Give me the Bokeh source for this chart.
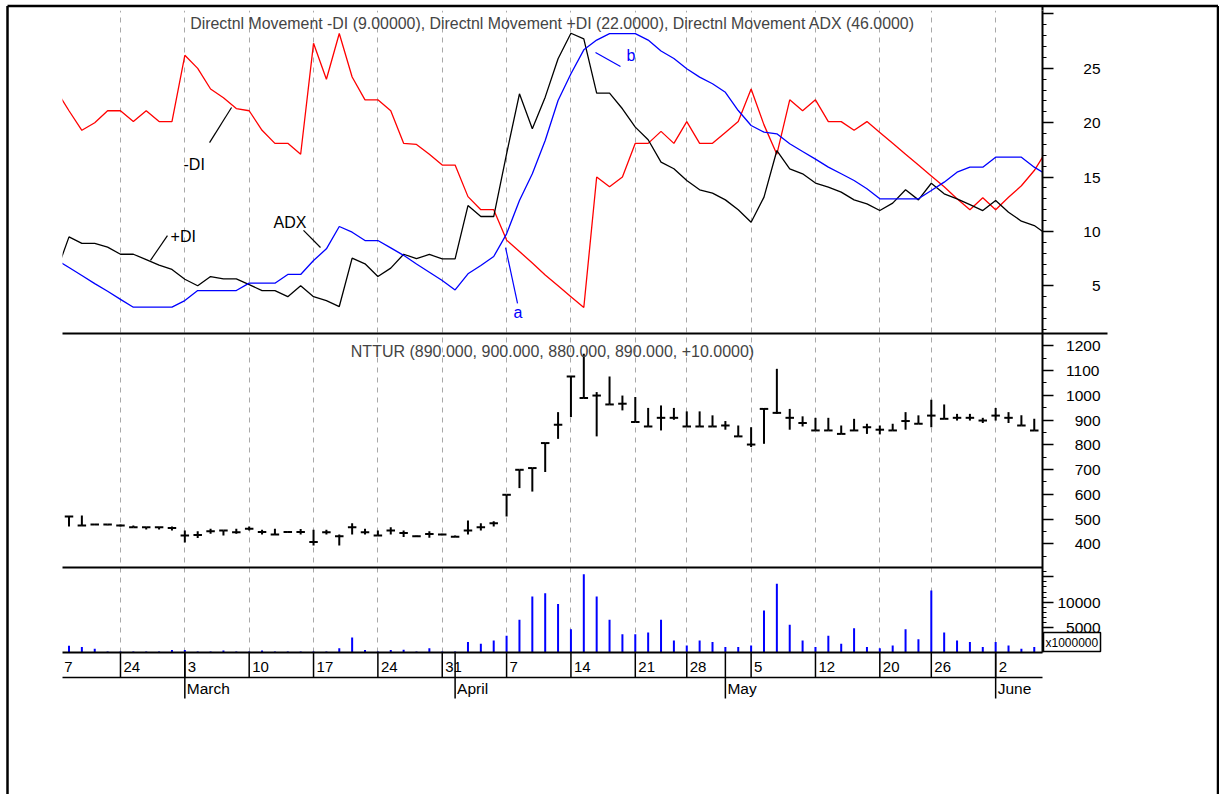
import datetime as dt
import numpy as np
from bokeh.plotting import figure
from bokeh.models import Range1d, LinearAxis, FixedTicker, Label
from bokeh.core.properties import value
from bokeh.embed import file_html
from bokeh.resources import INLINE

FONT = "Liberation Sans"

# ------------------------------------------------------------------ data
trading_days = {
    "1997-02": [18, 19, 20, 21, 24, 25, 26, 27, 28],
    "1997-03": [3, 4, 5, 6, 7, 10, 11, 12, 13, 14, 17, 18, 19, 20, 21, 24, 25, 26, 27, 28, 31],
    "1997-04": [1, 2, 3, 4, 7, 8, 9, 10, 11, 14, 15, 16, 17, 18, 21, 22, 24, 25, 28, 29, 30],
    "1997-05": [1, 2, 5, 6, 7, 8, 9, 12, 13, 14, 15, 16, 20, 21, 22, 23, 26, 27, 28, 29, 30],
    "1997-06": [2, 3, 4, 5],
}
dates = [dt.date.fromisoformat(f"{ym}-{d:02d}") for ym, days in trading_days.items() for d in days]

price_open = [510, 474, 478, 478, 474, 467, 467, 467, 464, 434, 436, 451, 454, 447, 461, 448, 438, 448, 448, 407,
              447, 430, 467, 447, 434, 454, 444, 430, 440, 438, 428, 454, 467, 483, 598, 699, 706, 807, 881, 1076,
              989, 999, 963, 966, 892, 874, 909, 909, 874, 874, 874, 878, 834, 801, 945, 929, 909, 888, 858, 858,
              844, 858, 871, 861, 858, 896, 885, 918, 905, 909, 909, 898, 918, 909, 878, 858]
price_high = [510, 514, 480, 478, 478, 474, 467, 467, 470, 454, 451, 461, 454, 461, 470, 457, 461, 450, 460, 457,
              457, 438, 483, 461, 454, 467, 454, 433, 451, 441, 434, 494, 483, 491, 598, 699, 706, 807, 932, 1076,
              1168, 1013, 1076, 999, 993, 949, 959, 949, 935, 935, 919, 896, 878, 871, 945, 1107, 945, 915, 909, 909,
              878, 905, 885, 878, 885, 932, 919, 982, 963, 925, 925, 909, 949, 932, 919, 905]
price_low = [470, 474, 477, 475, 470, 467, 458, 458, 454, 405, 423, 441, 434, 441, 454, 438, 438, 446, 438, 393,
             438, 393, 438, 438, 434, 438, 427, 427, 424, 435, 428, 438, 454, 470, 510, 625, 611, 690, 824, 912,
             989, 834, 963, 939, 892, 874, 858, 901, 874, 874, 874, 861, 834, 791, 804, 925, 861, 874, 858, 858,
             844, 858, 844, 842, 858, 861, 885, 871, 905, 898, 898, 888, 898, 888, 878, 858]
price_close = [510, 474, 478, 478, 474, 467, 467, 467, 464, 434, 436, 451, 454, 447, 461, 448, 438, 448, 448, 407,
               447, 430, 467, 447, 434, 454, 444, 430, 440, 438, 428, 454, 467, 483, 598, 699, 706, 807, 881, 1076,
               989, 999, 963, 966, 892, 874, 909, 909, 874, 874, 874, 878, 834, 801, 945, 929, 909, 888, 858, 858,
               844, 858, 871, 861, 858, 896, 885, 918, 905, 909, 909, 898, 918, 909, 878, 858]
volume = [1330, 1070, 730, 200, 200, 200, 200, 200, 500, 500, 200, 200, 400, 200, 200, 400, 200, 200, 200, 200,
          200, 860, 2980, 500, 200, 500, 530, 200, 860, 200, 200, 2060, 1730, 2390, 3310, 6490, 11110, 11780, 9600, 4630,
          15550, 11110, 6490, 3640, 3640, 3970, 6490, 2390, 1400, 2390, 2060, 1070, 1070, 1400, 8330, 13630, 5500, 2390, 1070, 3310,
          1730, 4830, 1070, 860, 1400, 4630, 2650, 12300, 3970, 2390, 2060, 1070, 2060, 1400, 730, 1070]

# indicator series run from the session before the first bar to the session after the last one
minus_di = [23.0, 21.1, 19.3, 20.0, 21.1, 21.1, 20.1, 21.1, 20.1, 20.1, 26.2, 25.0, 23.1, 22.3, 21.3, 21.1, 19.3, 18.1,
            18.1, 17.1, 27.3, 24.0, 28.2, 24.2, 22.1, 22.1, 21.1, 18.1, 18.0, 17.1, 16.1, 16.1, 13.2, 12.0, 12.0, 9.2,
            8.15, 7.1, 6.0, 5.0, 4.0, 3.0, 15.0, 14.1, 15.0, 18.1, 18.1, 19.2, 18.1, 20.1, 18.1, 18.1, 19.1, 20.1,
            23.1, 19.8, 17.1, 22.1, 21.1, 22.1, 20.1, 20.1, 19.3, 20.1, 19.1, 18.1, 17.1, 16.1, 15.1, 14.1, 13.0, 12.0,
            13.1, 12.0, 13.15, 14.2, 15.6, 17.5]
plus_di = [6.2, 9.5, 8.9, 8.9, 8.55, 7.9, 7.9, 7.4, 6.9, 6.5, 5.6, 5.0, 5.85, 5.64, 5.64, 5.1, 4.56, 4.56,
           4.0, 5.0, 4.0, 3.64, 3.09, 7.54, 7.02, 5.85, 6.62, 7.9, 7.5, 7.88, 7.48, 7.48, 12.38, 11.37, 11.37, 17.14,
           22.66, 19.44, 22.35, 25.88, 28.23, 27.71, 22.72, 22.72, 21.28, 19.59, 18.43, 16.37, 15.76, 14.68, 13.83, 13.52, 12.9, 11.99,
           10.85, 13.15, 17.44, 15.76, 15.3, 14.45, 14.07, 13.61, 12.9, 12.54, 11.92, 12.6, 13.83, 12.9, 14.43, 13.46, 13.0, 12.47,
           11.92, 12.84, 11.77, 10.94, 10.54, 9.7]
adx = [7.4, 6.68, 5.94, 5.2, 4.5, 3.75, 3.03, 3.03, 3.03, 3.03, 3.64, 4.56, 4.56, 4.56, 4.56, 5.24, 5.24, 5.24,
       6.04, 6.04, 7.32, 8.4, 10.45, 9.93, 9.16, 9.16, 8.49, 7.8, 7.0, 6.25, 5.48, 4.62, 6.1, 6.86, 7.69, 9.78,
       12.84, 15.3, 18.36, 22.04, 24.5, 26.7, 27.6, 28.2, 28.2, 28.2, 27.6, 26.6, 25.9, 24.96, 24.19, 23.58, 22.8, 21.12,
       19.74, 19.13, 18.98, 18.06, 17.35, 16.65, 15.91, 15.3, 14.68, 13.92, 13.0, 13.0, 13.0, 13.0, 13.76, 14.53, 15.45, 15.91,
       15.91, 16.83, 16.83, 16.83, 15.91, 15.2]

dmi_title = "Directnl Movement -DI (9.00000), Directnl Movement +DI (22.0000), Directnl Movement ADX (46.0000)"
price_title = "NTTUR (890.000, 900.000, 880.000, 890.000, +10.0000)"
month_names = {3: "March", 4: "April", 5: "May", 6: "June"}

dmi_ticks, dmi_labels = [5, 10, 15, 20, 25, 30], ["5", "10", "15", "20", "25", ""]
price_ticks = [400, 500, 600, 700, 800, 900, 1000, 1100, 1200]
price_labels = ["400", "500", "600", "700", "800", "900", "1000", "1100", "1200"]
vol_ticks, vol_labels = [5000, 10000, 15000], ["5000", "10000", ""]
vol_unit = "x1000000"

# callouts on the indicator panel (bar index, indicator value)
callout_text = ["-DI", "+DI", "ADX", "a", "b"]
callout_color = ["black", "black", "black", "#0000FF", "#0000FF"]
callout_tx = [8.9, 7.89, 15.89, 34.54, 43.32]
callout_ty = [16.15, 9.53, 10.82, 2.54, 26.18]
callout_x0 = [10.92, 6.33, 18.22, 33.92, 40.91]
callout_y0 = [18.17, 7.33, 10.09, 8.52, 26.46]
callout_x1 = [12.63, 7.65, 19.54, 34.85, 42.85]
callout_y1 = [21.40, 9.62, 8.52, 3.37, 25.17]

# ------------------------------------------------------------------ layout
W, H = 1219, 794
BL, BR, BT, BB = 62, 177, 10, 142
FRAME_W, FRAME_H = W - BL - BR, H - BT - BB
dmi_lo, dmi_hi = 0.61, 30.32
px_lo, px_hi = 304.2, 1249.7
vol_lo, vol_hi = 0.0, 16865.0
PANELS = {"dmi": (0, 323), "price": (323, 234), "vol": (557, 85)}


def full_range(lo, hi, panel):
    top, h = PANELS[panel]
    upp = (hi - lo) / h
    return Range1d(lo - (FRAME_H - top - h) * upp, hi + top * upp)


n = len(dates)
x = np.arange(n).astype(float)
xi = np.arange(-1, n + 1)
xr = Range1d(-0.505, 75.64)
dmi_rng = full_range(dmi_lo, dmi_hi, "dmi")
price_rng = full_range(px_lo, px_hi, "price")
vol_rng = full_range(vol_lo, vol_hi, "vol")


def data_x(page_x):
    return xr.start + (page_x - BL) * (xr.end - xr.start) / FRAME_W


def data_y(page_y):
    return dmi_rng.end - (page_y - BT) * (dmi_rng.end - dmi_rng.start) / FRAME_H


def panel_to_axis(v, lo, hi, panel):
    top, h = PANELS[panel]
    return data_y(BT + top + h * (hi - v) / (hi - lo))


p = figure(width=W, height=H, x_range=xr, y_range=dmi_rng,
           x_axis_location=None, y_axis_location=None,
           min_border_left=BL, min_border_right=BR, min_border_top=BT, min_border_bottom=BB,
           output_backend="svg", toolbar_location=None,
           background_fill_color="white", border_fill_color="white", outline_line_color=None)
p.title.visible = False
p.extra_y_ranges = {"price": price_rng, "vol": vol_rng}
p.ygrid.visible = False

week_idx = [i for i in range(1, n) if dates[i].isocalendar()[1] != dates[i - 1].isocalendar()[1]]
month_idx = [i for i in range(1, n) if dates[i].month != dates[i - 1].month]

p.xgrid.ticker = FixedTicker(ticks=week_idx)
p.xgrid.grid_line_color = "#a8a8a8"
p.xgrid.grid_line_dash = "5 5"
p.xgrid.grid_line_width = 1

# ---- indicator lines
p.line(xi, minus_di, color="#FF0000", line_width=1.3)
p.line(xi, plus_di, color="black", line_width=1.3)
p.line(xi, adx, color="#0000FF", line_width=1.3)

# ---- OHLC bars
p.segment(x, price_low, x, price_high, y_range_name="price", color="black", line_width=2)
p.segment(x - 0.33, price_open, x, price_open, y_range_name="price", color="black", line_width=2)
p.segment(x, price_close, x + 0.33, price_close, y_range_name="price", color="black", line_width=2)

# ---- volume
p.segment(x, [0] * n, x, volume, y_range_name="vol", color="#0000FF", line_width=2)

# ---- callouts
p.segment(callout_x0, callout_y0, callout_x1, callout_y1, color=callout_color, line_width=1.2)
for t, c, tx, ty in zip(callout_text, callout_color, callout_tx, callout_ty):
    p.add_layout(Label(x=tx, y=ty, text=t, text_color=c, text_font=FONT, text_font_size="16px",
                       text_baseline="middle", text_align="left"))

# ---- panel titles
xmid = (xr.start + xr.end) / 2
p.add_layout(Label(x=xmid, y=data_y(23), text=dmi_title, text_font=FONT,
                   text_font_size="15.9px", text_align="center", text_baseline="middle"))
p.add_layout(Label(x=xmid, y=data_y(351), text=price_title, text_font=FONT,
                   text_font_size="16px", text_align="center", text_baseline="middle"))

overlay = []
# ---- panel separators, date scale rows and outer frame (decoration, drawn outside the frame)
overlay.append(p.segment([xr.start], [dmi_lo], [data_x(1107)], [dmi_lo], color="black", line_width=2))
overlay.append(p.segment([xr.start], [px_lo], [xr.end], [px_lo], y_range_name="price", color="black", line_width=2))
overlay.append(p.segment([xr.start], [vol_lo], [xr.end], [vol_lo], y_range_name="vol", color="black", line_width=2))
overlay.append(p.segment([xr.start], [data_y(677)], [xr.end], [data_y(677)], color="black", line_width=1.5))
overlay.append(p.segment(week_idx, [data_y(652)] * len(week_idx), week_idx, [data_y(677)] * len(week_idx),
                         color="black", line_width=1.5))
overlay.append(p.segment(month_idx, [data_y(652)] * len(month_idx), month_idx, [data_y(698)] * len(month_idx),
                         color="black", line_width=1.5))
overlay.append(p.segment([xr.end], [data_y(5)], [xr.end], [data_y(10)], color="black", line_width=2))
overlay.append(p.segment([data_x(7), data_x(7), data_x(1217.5)], [data_y(5.5), data_y(5.5), data_y(5.5)],
                         [data_x(7), data_x(1217.5), data_x(1217.5)], [data_y(820), data_y(5.5), data_y(820)],
                         color="black", line_width=2.5))
# volume unit box
overlay.append(p.quad(left=[data_x(1043)], right=[data_x(1100)], top=[data_y(632)], bottom=[data_y(651)],
                      fill_color="white", line_color="black", line_width=1.5))
overlay.append(p.text([xr.end], [data_y(642)], text=[vol_unit], x_offset=3, text_font=value(FONT),
                      text_font_size=value("12px"), text_baseline="middle", text_align="left", color="black"))

# ---- date labels
day_x = [-1] + week_idx
day_text = ["7"] + [str(dates[i].day) for i in week_idx]
day_off = [8] + [3] * len(week_idx)
overlay.append(p.text(day_x, [data_y(666)] * len(day_x), text=day_text, x_offset=day_off,
                      text_font=value(FONT), text_font_size=value("15px"), text_baseline="middle",
                      text_align="left", color="black"))
overlay.append(p.text(month_idx, [data_y(688)] * len(month_idx),
                      text=[month_names[dates[i].month] for i in month_idx], x_offset=2,
                      text_font=value(FONT), text_font_size=value("15.5px"), text_baseline="middle",
                      text_align="left", color="black"))
for r in overlay:
    r.level = "overlay"

# ---- right axis shared by the three panels
major = list(dmi_ticks) + [panel_to_axis(v, px_lo, px_hi, "price") for v in price_ticks] + \
        [panel_to_axis(v, vol_lo, vol_hi, "vol") for v in vol_ticks]
labels = dmi_labels + price_labels + vol_labels
FIG = "\u2007"
labels = [FIG * (5 - len(s)) + s if s else "" for s in labels]
minor = list(range(1, 31)) + [panel_to_axis(v, px_lo, px_hi, "price") for v in range(350, 1251, 50)] + \
        [panel_to_axis(v, vol_lo, vol_hi, "vol") for v in range(1000, 17000, 1000)]
ax = LinearAxis(ticker=FixedTicker(ticks=major, minor_ticks=minor),
                major_label_overrides=dict(zip(major, labels)),
                axis_line_width=2, axis_line_color="black",
                major_tick_out=11, major_tick_in=0, major_tick_line_width=1.5,
                minor_tick_out=4, minor_tick_in=0, minor_tick_line_width=1.2,
                major_label_standoff=4, major_label_text_font=FONT,
                major_label_text_font_size="15.5px", major_label_text_color="black")
p.add_layout(ax, "right")

open("out.html", "w").write(file_html(p, INLINE))
